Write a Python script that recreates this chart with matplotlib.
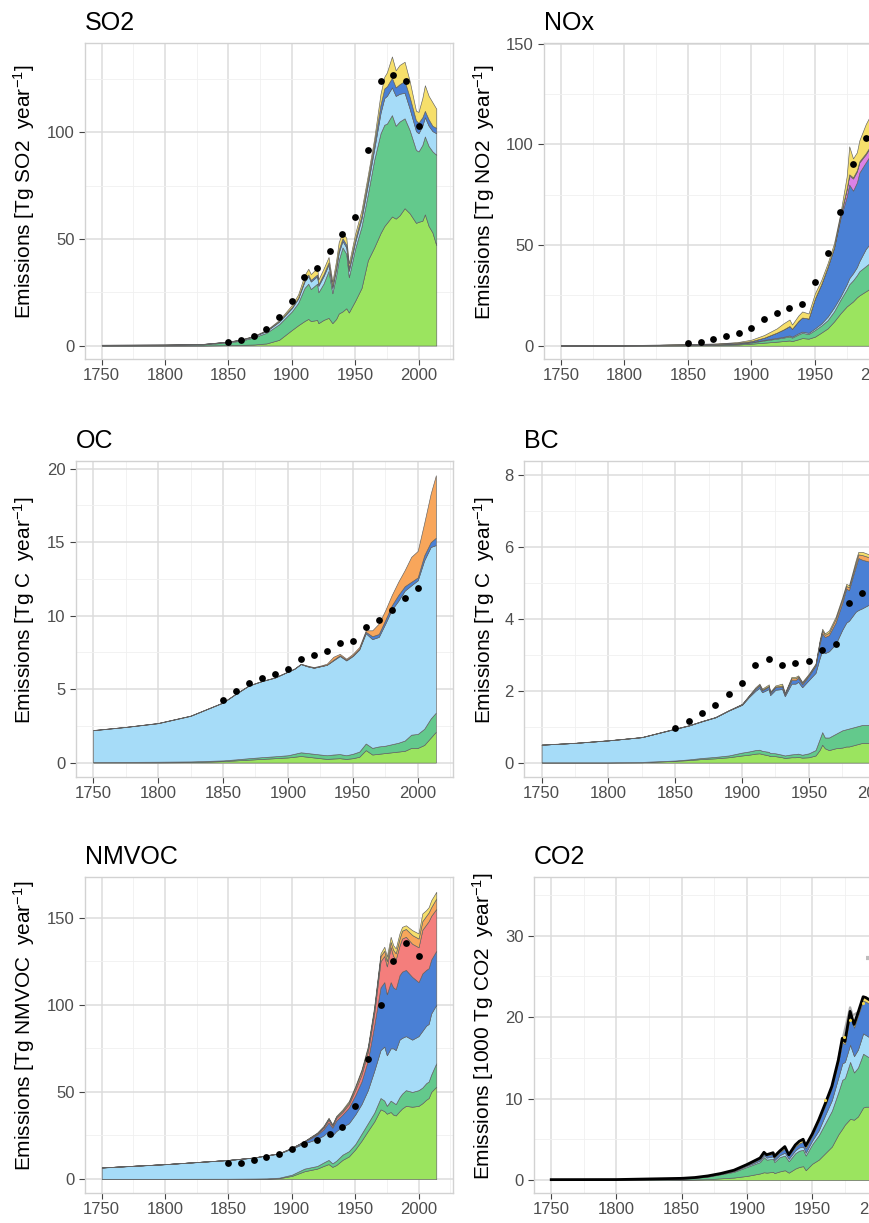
import numpy as np
import matplotlib
matplotlib.use("Agg")
import matplotlib.pyplot as plt
from matplotlib.ticker import MultipleLocator

plt.rcParams['font.family'] = ['Liberation Sans', 'DejaVu Sans']
plt.rcParams['mathtext.fontset'] = 'custom'
plt.rcParams['mathtext.rm'] = 'Liberation Sans'
plt.rcParams['mathtext.it'] = 'Liberation Sans:italic'

# ---- data ----
dot_years = [1850, 1860, 1870, 1880, 1890, 1900, 1910, 1920, 1930, 1940,
             1950, 1960, 1970, 1980, 1990, 2000]

# SO2
so2_years = [1750, 1800, 1830, 1850, 1860, 1870, 1880, 1890, 1900, 1905, 1910, 1913, 1915, 1920,
             1921, 1925, 1929, 1932, 1935, 1937, 1940, 1943, 1945, 1950, 1955, 1960, 1965, 1970,
             1973, 1975, 1979, 1982, 1985, 1989, 1993, 1998, 2000, 2003, 2005, 2008, 2011, 2014]
so2_energy = [0.0, 0.02, 0.05, 0.2, 0.3, 0.5, 1.0, 2.7, 7.3, 9.5, 11.5, 12.5, 11.5, 12.0,
              10.5, 12.0, 13.0, 10.5, 12.5, 15.0, 16.0, 17.5, 15.5, 21.0, 27.0, 40.0, 46.0, 52.7,
              56.0, 57.5, 60.5, 59.5, 61.0, 64.4, 62.0, 57.5, 58.0, 58.5, 61.5, 56.0, 53.0, 47.0]
so2_industry = [0.1, 0.2, 0.5, 1.5, 2.3, 3.8, 6.0, 10.0, 16.0, 20.0, 27.0, 29.0, 26.5, 29.0,
                25.0, 29.0, 35.0, 24.5, 33.0, 40.0, 46.0, 43.0, 32.0, 45.5, 55.8, 71.0, 87.0, 99.5,
                103.5, 104.0, 108.0, 103.0, 105.0, 106.5, 101.0, 91.7, 91.0, 94.0, 98.0, 93.5, 91.0, 89.4]
so2_residential = [0.3, 0.4, 0.7, 1.8, 2.7, 4.3, 6.8, 11.2, 17.5, 22.0, 30.0, 32.5, 30.0, 32.5,
                   28.0, 32.5, 38.0, 27.0, 36.0, 43.5, 49.0, 46.0, 35.0, 48.5, 59.5, 75.5, 92.0, 109.0,
                   116.0, 117.0, 121.0, 117.0, 118.0, 118.5, 111.0, 100.5, 99.5, 103.0, 107.0, 103.0, 100.5, 99.5]
so2_transport = [0.35, 0.45, 0.75, 1.85, 2.8, 4.4, 7.0, 11.5, 18.0, 22.5, 30.8, 33.3, 30.8, 33.3,
                 28.8, 33.5, 39.0, 28.0, 37.2, 44.8, 50.3, 47.3, 36.3, 50.0, 61.0, 77.5, 94.5, 113.0,
                 120.5, 121.5, 125.5, 121.0, 122.5, 124.0, 116.5, 105.5, 104.5, 107.0, 110.0, 106.0, 103.0, 102.0]
so2_shipping = [0.4, 0.5, 0.8, 1.9, 2.9, 4.6, 7.3, 12.0, 19.0, 24.0, 33.0, 36.0, 33.5, 36.5,
                31.0, 36.0, 41.5, 30.0, 40.0, 48.5, 53.0, 50.5, 38.5, 52.5, 63.5, 80.0, 97.0, 118.0,
                126.0, 128.0, 135.5, 129.0, 131.5, 133.0, 124.0, 110.0, 109.5, 116.0, 122.0, 117.0, 114.0, 111.0]
so2_dots = [1.6, 2.7, 4.7, 7.8, 13.3, 21.1, 32.3, 36.3, 44.1, 52.3, 60.2, 91.7, 124.1, 126.9, 123.8, 103.1]

# NOx
nox_years = [1750, 1800, 1850, 1870, 1880, 1890, 1900, 1910, 1920, 1925, 1930, 1932, 1937, 1940,
             1945, 1950, 1955, 1960, 1965, 1970, 1975, 1977, 1980, 1983, 1985, 1990, 1995, 2000,
             2005, 2010, 2014]
nox_energy = [0.05, 0.1, 0.2, 0.3, 0.4, 0.6, 1.0, 1.5, 2.0, 2.3, 2.6, 2.3, 3.2, 3.8,
              3.5, 4.5, 6.5, 8.6, 12.0, 16.0, 19.5, 20.5, 22.0, 24.0, 25.0, 27.0, 29.0, 31.0,
              33.0, 35.0, 36.0]
nox_industry = [0.1, 0.15, 0.35, 0.55, 0.75, 1.0, 1.6, 2.6, 3.5, 4.0, 4.6, 4.0, 5.6, 6.4,
                5.8, 7.8, 10.0, 12.7, 17.0, 22.7, 28.0, 30.5, 32.5, 35.0, 37.0, 39.5, 42.0, 46.0,
                50.0, 54.0, 56.0]
nox_residential = [0.15, 0.2, 0.45, 0.65, 0.85, 1.15, 1.8, 2.9, 3.9, 4.4, 5.1, 4.5, 6.2, 7.0,
                   6.4, 8.6, 11.0, 14.4, 19.0, 24.3, 30.5, 33.5, 36.0, 39.0, 42.0, 48.0, 52.0, 56.0,
                   60.0, 64.0, 66.0]
nox_transport = [0.2, 0.25, 0.6, 0.85, 1.1, 1.5, 2.3, 4.0, 6.5, 8.0, 9.8, 8.4, 12.3, 14.0,
                 13.5, 23.5, 30.5, 39.0, 48.5, 63.0, 74.0, 80.0, 77.0, 81.0, 86.0, 91.0, 96.0, 102.0,
                 110.0, 118.0, 121.0]
nox_agriculture = [0.2, 0.25, 0.6, 0.85, 1.1, 1.5, 2.3, 4.0, 6.5, 8.0, 9.8, 8.4, 12.3, 14.0,
                   13.5, 23.5, 30.5, 39.0, 48.6, 63.8, 77.5, 84.5, 83.0, 86.5, 91.0, 95.0, 100.0, 106.0,
                   114.0, 122.0, 125.0]
nox_waste = [0.2, 0.25, 0.6, 0.85, 1.1, 1.5, 2.3, 4.0, 6.5, 8.0, 9.8, 8.4, 12.3, 14.0,
             13.5, 23.5, 30.6, 39.2, 48.9, 64.4, 78.1, 85.1, 83.6, 87.1, 91.6, 95.6, 100.6, 106.6,
             114.6, 122.6, 125.6]
nox_shipping = [0.25, 0.3, 0.8, 1.1, 1.4, 1.9, 3.0, 5.3, 8.6, 11.0, 13.0, 10.5, 15.0, 17.0,
                16.0, 26.0, 32.6, 41.0, 50.8, 65.7, 84.0, 99.0, 93.0, 96.0, 102.0, 110.0, 116.0, 123.0,
                132.0, 140.0, 143.0]
nox_dots = [1.5, 2.0, 3.3, 4.8, 6.5, 8.9, 13.1, 16.4, 18.5, 20.5, 31.5, 46.2, 66.2, 90.2, 103.0]

# OC
oc_years = [1750, 1775, 1800, 1825, 1850, 1860, 1870, 1880, 1890, 1900, 1905, 1910, 1915, 1920,
            1925, 1930, 1935, 1940, 1945, 1950, 1955, 1960, 1965, 1970, 1975, 1980, 1985, 1990,
            1995, 2000, 2005, 2010, 2014]
oc_energy = [0.02, 0.02, 0.02, 0.03, 0.1, 0.15, 0.2, 0.25, 0.3, 0.35, 0.4, 0.45, 0.4, 0.35,
             0.3, 0.25, 0.28, 0.3, 0.25, 0.3, 0.4, 0.85, 0.55, 0.6, 0.65, 0.7, 0.75, 0.8,
             1.0, 1.0, 1.2, 1.7, 2.1]
oc_industry = [0.04, 0.05, 0.06, 0.08, 0.15, 0.22, 0.3, 0.37, 0.43, 0.5, 0.6, 0.7, 0.65, 0.6,
               0.55, 0.5, 0.55, 0.58, 0.5, 0.6, 0.75, 1.3, 1.0, 1.1, 1.15, 1.25, 1.35, 1.5,
               1.9, 1.95, 2.3, 3.0, 3.4]
oc_residential = [2.2, 2.42, 2.68, 3.18, 4.08, 4.68, 5.24, 5.54, 5.78, 6.18, 6.38, 6.7, 6.55, 6.45,
                  6.55, 6.65, 6.95, 7.25, 6.95, 7.25, 7.7, 8.8, 8.4, 8.55, 9.45, 10.4, 11.0, 11.7,
                  12.06, 12.4, 13.76, 14.67, 14.8]
oc_transport = [2.21, 2.43, 2.69, 3.19, 4.09, 4.69, 5.25, 5.55, 5.79, 6.19, 6.39, 6.71, 6.56, 6.46,
                6.56, 6.66, 7.0, 7.3, 7.0, 7.3, 7.75, 8.9, 8.6, 8.75, 9.7, 10.7, 11.4, 12.0,
                12.3, 12.6, 14.1, 15.0, 15.3]
oc_waste = [2.22, 2.43, 2.7, 3.2, 4.1, 4.7, 5.26, 5.56, 5.8, 6.2, 6.4, 6.73, 6.6, 6.5,
            6.6, 6.73, 7.2, 7.4, 7.07, 7.4, 7.87, 9.0, 9.0, 9.46, 10.36, 11.4, 12.3, 13.1,
            14.0, 14.4, 16.3, 18.3, 19.55]
oc_dots = [4.29, 4.88, 5.44, 5.78, 6.05, 6.39, 7.07, 7.3, 7.6, 8.16, 8.28, 9.23, 9.73, 10.36, 11.2, 11.9]

# BC
bc_years = [1750, 1775, 1800, 1825, 1850, 1860, 1870, 1880, 1890, 1900, 1905, 1910, 1913, 1915,
            1920, 1921, 1925, 1930, 1932, 1937, 1940, 1942, 1945, 1950, 1955, 1958, 1960, 1962,
            1965, 1970, 1975, 1978, 1980, 1983, 1985, 1987, 1990, 1995, 2000, 2005, 2010, 2014]
bc_energy = [0.005, 0.005, 0.005, 0.01, 0.05, 0.07, 0.1, 0.12, 0.15, 0.2, 0.22, 0.25, 0.26, 0.24,
             0.2, 0.18, 0.18, 0.15, 0.13, 0.15, 0.15, 0.16, 0.14, 0.15, 0.2, 0.35, 0.5, 0.4,
             0.35, 0.4, 0.42, 0.45, 0.45, 0.48, 0.5, 0.52, 0.55, 0.55, 0.6, 0.65, 0.68, 0.7]
bc_industry = [0.01, 0.01, 0.01, 0.02, 0.06, 0.09, 0.13, 0.16, 0.2, 0.28, 0.31, 0.35, 0.36, 0.33,
               0.3, 0.27, 0.26, 0.22, 0.2, 0.23, 0.24, 0.25, 0.22, 0.26, 0.35, 0.65, 0.85, 0.7,
               0.7, 0.8, 0.9, 0.93, 0.95, 0.98, 1.0, 1.02, 1.05, 1.05, 1.1, 1.2, 1.25, 1.3]
bc_residential = [0.5, 0.55, 0.62, 0.71, 0.94, 1.03, 1.15, 1.26, 1.45, 1.61, 1.82, 2.0, 2.08, 1.96,
                  2.05, 1.88, 2.03, 2.05, 1.85, 2.2, 2.2, 2.25, 2.1, 2.3, 2.5, 2.9, 3.13, 3.05,
                  3.1, 3.3, 3.7, 3.9, 3.95, 4.1, 4.2, 4.25, 4.3, 4.4, 4.6, 5.0, 5.4, 5.6]
bc_transport = [0.5, 0.55, 0.62, 0.71, 0.945, 1.035, 1.155, 1.265, 1.455, 1.62, 1.84, 2.05, 2.15, 2.01,
                2.12, 1.93, 2.1, 2.12, 1.9, 2.3, 2.3, 2.36, 2.18, 2.42, 2.7, 3.3, 3.6, 3.5,
                3.55, 3.9, 4.45, 4.85, 4.8, 5.2, 5.45, 5.7, 5.65, 5.6, 5.9, 6.5, 7.25, 7.6]
bc_waste = [0.5, 0.55, 0.62, 0.71, 0.947, 1.037, 1.157, 1.267, 1.457, 1.63, 1.855, 2.07, 2.17, 2.03,
            2.14, 1.95, 2.12, 2.15, 1.92, 2.35, 2.35, 2.4, 2.22, 2.45, 2.73, 3.35, 3.68, 3.56,
            3.62, 4.0, 4.55, 4.92, 4.88, 5.28, 5.55, 5.8, 5.78, 5.72, 6.0, 6.65, 7.45, 7.8]
bc_shipping = [0.505, 0.555, 0.625, 0.715, 0.95, 1.04, 1.16, 1.27, 1.46, 1.64, 1.87, 2.1, 2.2, 2.06,
               2.18, 1.97, 2.15, 2.2, 1.94, 2.39, 2.39, 2.43, 2.25, 2.48, 2.76, 3.4, 3.73, 3.6,
               3.68, 4.06, 4.61, 4.98, 4.94, 5.35, 5.63, 5.87, 5.87, 5.8, 6.1, 6.8, 7.6, 8.0]
bc_dots = [0.97, 1.16, 1.39, 1.61, 1.9, 2.23, 2.71, 2.9, 2.73, 2.77, 2.83, 3.15, 3.29, 4.45, 4.72]

# NMVOC
voc_years = [1750, 1800, 1850, 1870, 1880, 1890, 1900, 1910, 1920, 1925, 1929, 1932, 1935, 1940,
             1945, 1950, 1955, 1960, 1965, 1970, 1973, 1975, 1978, 1980, 1982, 1985, 1987, 1990,
             1995, 2000, 2003, 2006, 2008, 2010, 2014]
voc_energy = [0.1, 0.1, 0.15, 0.2, 0.25, 0.5, 1.8, 4.5, 6.0, 7.5, 8.6, 7.0, 8.0, 11.0,
              13.0, 17.0, 22.0, 27.6, 33.0, 40.0, 39.0, 37.5, 38.5, 37.0, 36.5, 39.0, 40.5, 42.0,
              41.5, 42.0, 43.5, 45.5, 46.5, 50.0, 53.0]
voc_industry = [0.15, 0.15, 0.2, 0.3, 0.4, 0.8, 2.5, 6.0, 7.5, 9.5, 11.0, 9.0, 10.5, 14.0,
                16.0, 20.0, 26.0, 32.0, 38.0, 46.5, 45.0, 42.0, 45.0, 44.0, 43.0, 47.0, 49.0, 51.0,
                50.0, 51.0, 52.5, 55.0, 56.0, 60.0, 66.5]
voc_residential = [6.6, 8.5, 10.9, 12.3, 13.5, 14.6, 17.5, 20.5, 23.0, 25.0, 27.6, 25.0, 27.5, 30.0,
                   32.0, 37.0, 43.0, 51.0, 62.0, 74.0, 76.0, 71.0, 75.0, 75.0, 74.0, 80.0, 81.0, 82.0,
                   80.0, 82.0, 85.0, 88.0, 89.0, 95.0, 100.0]
voc_transport = [6.65, 8.55, 10.95, 12.35, 13.55, 14.7, 17.8, 21.5, 25.5, 28.5, 32.5, 29.5, 33.5, 37.0,
                 41.0, 48.0, 56.0, 68.0, 88.0, 110.0, 113.0, 106.0, 113.0, 110.0, 109.0, 117.0, 119.0, 120.0,
                 116.0, 113.0, 118.0, 120.0, 121.0, 126.0, 131.0]
voc_solvents = [6.67, 8.57, 10.97, 12.37, 13.6, 14.75, 17.9, 21.7, 26.0, 29.5, 34.0, 30.5, 35.0, 38.5,
                43.0, 51.0, 60.0, 73.0, 95.0, 125.0, 128.0, 122.0, 133.0, 128.0, 126.0, 134.0, 138.0, 139.0,
                135.0, 133.0, 143.0, 146.0, 148.0, 151.0, 155.0]
voc_waste = [6.68, 8.58, 10.98, 12.38, 13.65, 14.78, 17.95, 21.8, 26.4, 30.0, 34.7, 31.0, 35.7, 39.3,
             44.0, 52.5, 62.0, 75.0, 97.5, 128.0, 131.0, 125.0, 136.0, 131.5, 129.5, 138.0, 142.5, 143.5,
             140.0, 138.0, 148.0, 151.0, 153.0, 156.0, 161.0]
voc_shipping = [6.7, 8.6, 11.0, 12.4, 13.7, 14.8, 18.0, 21.9, 26.7, 30.5, 35.2, 31.4, 36.2, 40.0,
                44.8, 53.3, 62.9, 76.2, 99.0, 129.5, 133.3, 127.6, 139.0, 134.2, 132.3, 141.0, 144.7, 145.6,
                142.8, 140.9, 152.4, 154.3, 156.0, 160.0, 164.8]
voc_dots = [9.0, 9.1, 10.9, 12.4, 14.3, 17.1, 20.0, 22.3, 26.1, 30.1, 41.9, 68.9, 100.0, 125.0, 135.5, 128.0]

# CO2 (1000 Tg)
co2_years = [1750, 1800, 1850, 1860, 1870, 1880, 1890, 1900, 1905, 1910, 1913, 1915, 1920, 1921,
             1925, 1929, 1932, 1937, 1940, 1943, 1945, 1950, 1955, 1960, 1965, 1970, 1973, 1975,
             1979, 1982, 1985, 1989, 1991, 1994, 2000, 2005, 2010, 2014]
co2_energy = [0.0, 0.0, 0.05, 0.07, 0.1, 0.2, 0.3, 0.5, 0.65, 0.8, 0.95, 0.9, 1.0, 0.85,
              1.05, 1.2, 0.9, 1.4, 1.6, 1.7, 1.2, 2.0, 2.5, 3.3, 4.1, 5.6, 6.3, 6.8,
              7.5, 7.4, 7.8, 8.9, 9.0, 9.0, 10.0, 12.0, 14.0, 15.0]
co2_industry = [0.01, 0.02, 0.15, 0.25, 0.4, 0.7, 1.0, 1.6, 1.9, 2.2, 2.8, 2.5, 2.6, 2.2,
                2.8, 3.0, 2.3, 3.3, 3.6, 3.7, 3.0, 4.4, 5.5, 7.0, 8.5, 10.8, 12.3, 12.5,
                14.5, 13.2, 13.8, 15.5, 15.3, 15.0, 16.0, 19.0, 21.0, 22.0]
co2_residential = [0.02, 0.03, 0.18, 0.28, 0.45, 0.75, 1.1, 1.75, 2.05, 2.4, 3.05, 2.75, 2.9, 2.45,
                   3.05, 3.35, 2.6, 3.65, 4.0, 4.1, 3.35, 4.85, 6.1, 8.0, 9.8, 12.6, 14.3, 14.5,
                   16.6, 15.2, 16.0, 18.0, 17.8, 17.5, 19.5, 22.5, 25.0, 26.5]
co2_transport = [0.03, 0.04, 0.19, 0.29, 0.47, 0.78, 1.15, 1.85, 2.2, 2.6, 3.3, 3.0, 3.2, 2.75,
                 3.4, 3.9, 3.0, 4.1, 4.5, 4.7, 3.9, 5.45, 7.2, 9.2, 11.3, 14.5, 16.9, 16.7,
                 20.2, 18.7, 20.2, 22.0, 21.9, 21.6, 24.5, 29.5, 33.0, 35.0]
co2_shipping = [0.04, 0.05, 0.2, 0.3, 0.5, 0.8, 1.2, 1.9, 2.3, 2.7, 3.4, 3.1, 3.35, 2.9,
                3.55, 4.1, 3.1, 4.3, 4.75, 5.0, 4.2, 5.65, 7.4, 9.4, 11.5, 14.75, 17.4, 17.0,
                20.7, 19.1, 20.5, 22.5, 22.4, 22.1, 25.0, 30.0, 33.5, 35.5]
co2_alt_years = [1970, 1974, 1977, 1979, 1981, 1985]
co2_alt = [14.8, 17.8, 19.8, 21.2, 20.2, 20.6]
co2_mark_years = [1960, 1974, 1979, 1989]
co2_mark = [9.8, 17.5, 19.7, 21.7]
co2_gray_years = [1991, 1996]
co2_gray = [27.2, 27.2]

# ---- style ----
col_energy = '#9BE45F'
col_industry = '#63C98C'
col_residential = '#A6DCF8'
col_transport = '#4A80D5'
col_agriculture = '#DD82E6'
col_solvents = '#F47E7C'
col_waste = '#F8A65B'
col_shipping = '#F6DF6B'

W, H = 870, 1223
fig = plt.figure(figsize=(W / 100, H / 100), dpi=100)


def px_axes(l, t, r, b):
    return fig.add_axes([l / W, 1 - b / H, (r - l) / W, (b - t) / H])


def panel(box, title, ylabel, label_x, ylim, ymajor, years, layers, dots=None):
    l, t, r, b = box
    ax = px_axes(l, t, r, b)
    lower = np.zeros(len(years))
    for top, col in layers:
        top = np.asarray(top, dtype=float)
        ax.fill_between(years, lower, top, facecolor=col, edgecolor='#606060',
                        linewidth=0.45, zorder=2)
        lower = top
    if dots is not None:
        ax.scatter(dot_years[:len(dots)], dots, s=24, color='black', zorder=5, linewidths=0)
    ax.set_xlim(1736.8, 2027.2)
    ax.set_ylim(*ylim)
    ax.xaxis.set_major_locator(MultipleLocator(50))
    ax.xaxis.set_minor_locator(MultipleLocator(25))
    ax.yaxis.set_major_locator(MultipleLocator(ymajor))
    ax.yaxis.set_minor_locator(MultipleLocator(ymajor / 2))
    ax.set_axisbelow(True)
    ax.grid(which='major', color='#DCDCDC', linewidth=1.1)
    ax.grid(which='minor', color='#F0F0F0', linewidth=0.6)
    for s in ax.spines.values():
        s.set_color('#D2D2D2')
        s.set_linewidth(1.0)
    ax.tick_params(which='major', length=4, width=0.8, color='#444444',
                   labelcolor='#4D4D4D', labelsize=12)
    ax.tick_params(axis='y', pad=3.5)
    ax.tick_params(axis='x', pad=2.5)
    ax.tick_params(which='minor', length=0)
    ax.set_title(title, loc='left', fontsize=18, pad=9)
    fig.text(label_x / W, 1 - ((t + b) / 2 - 9) / H, ylabel, rotation=90,
             ha='center', va='center', fontsize=15)
    return ax


panel((85, 43, 453, 359), 'SO2', r'Emissions [Tg SO2  year$^{-1}$]', 24, (-6.3, 141.8), 50,
      so2_years, [(so2_energy, col_energy), (so2_industry, col_industry),
                  (so2_residential, col_residential), (so2_transport, col_transport),
                  (so2_shipping, col_shipping)], so2_dots)

panel((544, 43, 913, 359), 'NOx', r'Emissions [Tg NO2  year$^{-1}$]', 484, (-6.6, 150.3), 50,
      nox_years, [(nox_energy, col_energy), (nox_industry, col_industry),
                  (nox_residential, col_residential), (nox_transport, col_transport),
                  (nox_agriculture, col_agriculture), (nox_waste, col_waste),
                  (nox_shipping, col_shipping)], nox_dots)

panel((76, 461, 453, 777), 'OC', r'Emissions [Tg C  year$^{-1}$]', 24, (-0.98, 20.52), 5,
      oc_years, [(oc_energy, col_energy), (oc_industry, col_industry),
                 (oc_residential, col_residential), (oc_transport, col_transport),
                 (oc_waste, col_waste)], oc_dots)

panel((524, 461, 912, 777), 'BC', r'Emissions [Tg C  year$^{-1}$]', 484, (-0.4, 8.4), 2,
      bc_years, [(bc_energy, col_energy), (bc_industry, col_industry),
                 (bc_residential, col_residential), (bc_transport, col_transport),
                 (bc_waste, col_waste), (bc_shipping, col_shipping)], bc_dots)

panel((85, 877, 453, 1193), 'NMVOC', r'Emissions [Tg NMVOC  year$^{-1}$]', 24, (-8.0, 173.3), 50,
      voc_years, [(voc_energy, col_energy), (voc_industry, col_industry),
                  (voc_residential, col_residential), (voc_transport, col_transport),
                  (voc_solvents, col_solvents), (voc_waste, col_waste),
                  (voc_shipping, col_shipping)], voc_dots)

ax = panel((534, 877, 913, 1193), 'CO2', r'Emissions [1000 Tg CO2  year$^{-1}$]', 483, (-1.6, 37.2), 10,
           co2_years, [(co2_energy, col_energy), (co2_industry, col_industry),
                       (co2_residential, col_residential), (co2_transport, col_transport),
                       (co2_shipping, col_shipping)])
ax.plot(co2_alt_years, co2_alt, color='#9A9A9A', linewidth=1.6, alpha=0.8, zorder=3)
ax.plot(co2_years, co2_shipping, color='black', linewidth=2.0, zorder=4)
ax.scatter(co2_mark_years, co2_mark, s=5, color='#F3D64A', zorder=6, linewidths=0)
ax.plot(co2_gray_years, co2_gray, color='#BDBDBD', linewidth=3, solid_capstyle='butt', zorder=4)

fig.savefig('out.png', dpi=100)
